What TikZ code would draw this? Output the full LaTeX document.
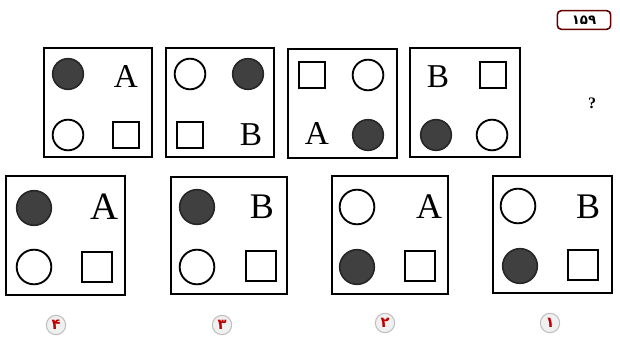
\documentclass[tikz,border=0pt]{standalone}
\usepackage{fontspec}
\setmainfont{Liberation Serif}
\newfontfamily\fafont[Script=Arabic]{DejaVu Sans}
\begin{document}
\begin{tikzpicture}[x=0.75pt,y=-0.75pt,
  frame/.style={draw=black,line width=2pt,fill=white},
  fillcirc/.style={circle,draw=black!85,line width=1.2pt,fill=black!75,inner sep=0pt},
  opencirc/.style={circle,draw=black,line width=1.4pt,fill=white,inner sep=0pt},
  sqbox/.style={rectangle,draw=black,line width=1.4pt,fill=white,inner sep=0pt},
  letter/.style={inner sep=0pt,font=\fontsize{25}{25}\selectfont},
  optlbl/.style={circle,draw=black!25,line width=0.8pt,fill=black!6,inner sep=0pt,minimum size=14.5pt,text=red!75!black,font=\fafont\fontsize{11}{11}\selectfont\bfseries}]
\useasboundingbox (0,0) rectangle (620,345);
% top row frames
\draw[frame] (44,48) rectangle (152,157);
\draw[frame] (166,48) rectangle (274,157);
\draw[frame] (288,49) rectangle (397,158);
\draw[frame] (410,48) rectangle (520,157);
% box 1
\node[fillcirc,minimum size=23pt] (t1a) at (68,74) {};
\node[letter] (t1b) at (126,76) {A};
\node[opencirc,minimum size=23pt] (t1c) at (68,135) {};
\node[sqbox,minimum size=20pt] (t1d) at (126,135) {};
% box 2
\node[opencirc,minimum size=23pt] (t2a) at (190,74) {};
\node[fillcirc,minimum size=23pt] (t2b) at (248,74) {};
\node[sqbox,minimum size=20pt] (t2c) at (190,135) {};
\node[letter] (t2d) at (251,135) {B};
% box 3
\node[sqbox,minimum size=20pt] (t3a) at (312,75) {};
\node[opencirc,minimum size=23pt] (t3b) at (368,75) {};
\node[letter] (t3c) at (317,133) {A};
\node[fillcirc,minimum size=23pt] (t3d) at (368,135) {};
% box 4
\node[letter] (t4a) at (438,77) {B};
\node[sqbox,minimum size=20pt] (t4b) at (493,75) {};
\node[fillcirc,minimum size=23pt] (t4c) at (436,135) {};
\node[opencirc,minimum size=23pt] (t4d) at (492,135) {};
% question mark
\node[inner sep=0pt,font=\bfseries\fontsize{12}{12}\selectfont] (q) at (592,103) {?};
% page number
\node[draw=red!40!black,line width=1.2pt,rounded corners=3pt,minimum width=40pt,minimum height=14pt,inner sep=0pt,font=\fafont\bfseries\fontsize{10}{10}\selectfont] (pg) at (584,20) {۱۵۹};
% bottom row frames
\draw[frame] (6,176) rectangle (125,295);
\draw[frame] (171,177) rectangle (287,294);
\draw[frame] (332,176) rectangle (448,294);
\draw[frame] (493,176) rectangle (612,293);
% option 4
\node[fillcirc,minimum size=26pt] (o4a) at (34,208) {};
\node[letter,font=\fontsize{29}{29}\selectfont] (o4b) at (104,207) {A};
\node[opencirc,minimum size=26pt] (o4c) at (34,267) {};
\node[sqbox,minimum size=22pt] (o4d) at (97,267) {};
% option 3
\node[fillcirc,minimum size=26pt] (o3a) at (197,207) {};
\node[letter,font=\fontsize{27}{27}\selectfont] (o3b) at (262,207) {B};
\node[opencirc,minimum size=26pt] (o3c) at (197,267) {};
\node[sqbox,minimum size=22pt] (o3d) at (261,266) {};
% option 2
\node[opencirc,minimum size=26pt] (o2a) at (357,207) {};
\node[letter,font=\fontsize{27}{27}\selectfont] (o2b) at (429,207) {A};
\node[fillcirc,minimum size=26pt] (o2c) at (357,267) {};
\node[sqbox,minimum size=22pt] (o2d) at (420,266) {};
% option 1
\node[opencirc,minimum size=26pt] (o1a) at (518,206) {};
\node[letter,font=\fontsize{27}{27}\selectfont] (o1b) at (588,207) {B};
\node[fillcirc,minimum size=26pt] (o1c) at (520,266) {};
\node[sqbox,minimum size=22pt] (o1d) at (583,265) {};
% option labels
\node[optlbl] (l4) at (56,325) {۴};
\node[optlbl] (l3) at (222,325) {۳};
\node[optlbl] (l2) at (385,323) {۲};
\node[optlbl] (l1) at (550,323) {۱};
\end{tikzpicture}
\end{document}
